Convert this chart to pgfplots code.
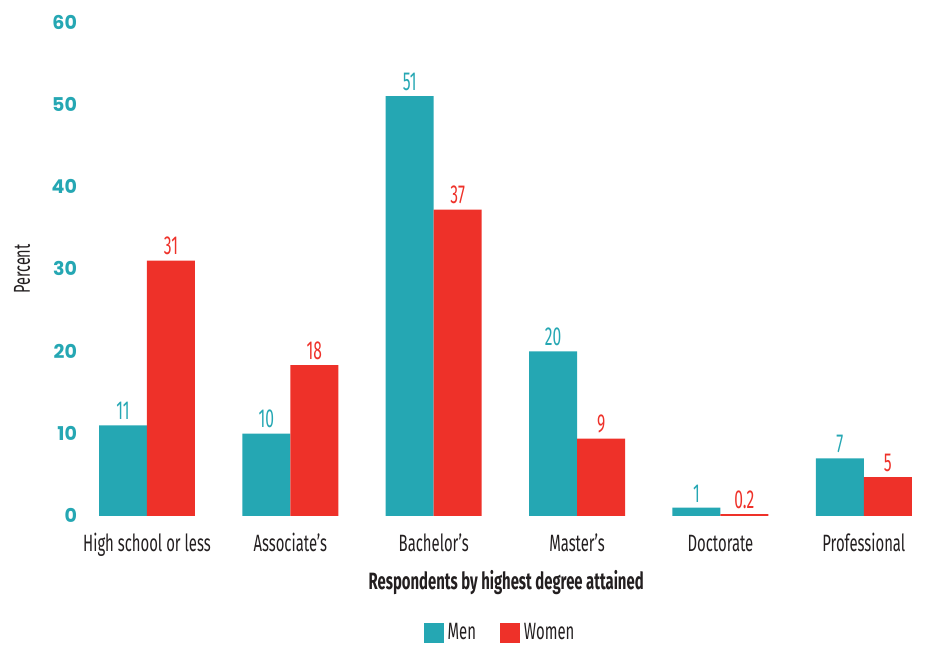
\documentclass[border=0pt]{standalone}
\usepackage{fontspec}
\setmainfont{Fira Sans}[FakeStretch=0.63]
\newfontfamily\valfont{Fira Sans}[FakeStretch=0.6]
\newfontfamily\tickfont{Poppins}
\usepackage{pgfplots}
\pgfplotsset{compat=1.18}
\definecolor{tealc}{HTML}{25A7B3}
\definecolor{redc}{HTML}{EE3129}
\definecolor{txt}{HTML}{231F20}
\begin{document}
\begin{tikzpicture}
\begin{axis}[
  name=ax,
  scale only axis,
  width=413.7pt, height=247pt,
  xmin=-0.42, xmax=5.35,
  ymin=0, ymax=60,
  ytick={0,10,20,30,40,50,60},
  xtick=data,
  xticklabels={High school or less,Associate’s,Bachelor’s,Master’s,Doctorate,Professional},
  axis line style={draw=none},
  major tick length=0pt,
  ybar=0pt,
  bar width=24pt,
  /pgf/number format/assume math mode=true,
  yticklabel style={font=\tickfont\bfseries\fontsize{9.5}{11}\selectfont, text=tealc, anchor=east, xshift=-1.4pt},
  xticklabel style={font=\fontsize{11.8}{13}\selectfont, text=txt, anchor=base, yshift=-18pt},
  xlabel={\bfseries Respondents by highest degree attained},
  xlabel style={at={(axis description cs:0.507,-0.1356)}, anchor=center, font=\fontsize{11.8}{13}\selectfont, text=txt},
  ylabel={Percent},
  ylabel style={at={(axis description cs:-0.0783,0.5)}, anchor=center, font=\fontsize{11.5}{13}\selectfont, text=txt},
  point meta=explicit symbolic,
  nodes near coords,
  nodes near coords style={font=\valfont\fontsize{13}{14}\selectfont, inner sep=2.5pt},
  legend style={at={(axis description cs:0.5007,-0.2368)}, anchor=center, draw=none, legend columns=2, font=\fontsize{11.8}{13}\selectfont, text=txt, /tikz/every even column/.append style={column sep=10pt}},
  legend image code/.code={\fill[#1] (0pt,-5pt) rectangle (10pt,5pt);},
]
\addplot[fill=tealc, draw=none, every node near coord/.append style={text=tealc}] coordinates {(0,11)[11] (1,10)[10] (2,51)[51] (3,20)[20] (4,1)[1] (5,7)[7]};
\addplot[fill=redc, draw=none, every node near coord/.append style={text=redc}] coordinates {(0,31)[31] (1,18.3)[18] (2,37.2)[37] (3,9.4)[9] (4,0.2)[0.2] (5,4.7)[5]};
\legend{Men,Women}
\end{axis}
\path ([xshift=-43.4pt,yshift=-64.5pt]ax.south west) rectangle ([xshift=5.5pt,yshift=11pt]ax.north east);
\end{tikzpicture}
\end{document}
